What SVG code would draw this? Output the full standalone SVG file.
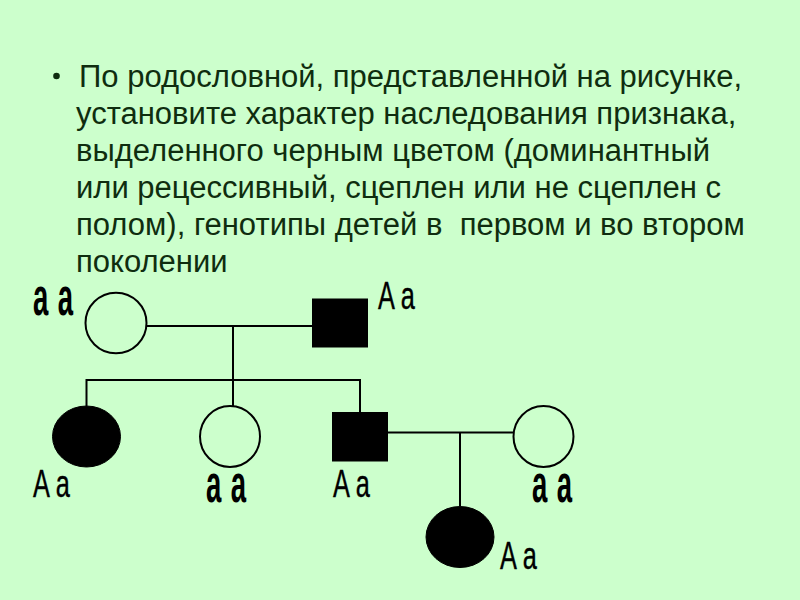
<svg xmlns="http://www.w3.org/2000/svg" width="800" height="600" viewBox="0 0 800 600">
<style>
.t{font-family:"Liberation Sans",Arial,sans-serif;font-size:31px;fill:#0f2d0f;white-space:pre}
.ln{stroke:#000;stroke-width:2;fill:none}
.open{fill:none;stroke:#000;stroke-width:2}
.fill{fill:#000;stroke:#000;stroke-width:1}
.gr{font-family:"Liberation Sans",Arial,sans-serif;font-weight:bold;font-size:53px;fill:#000;letter-spacing:18px}
.gA{font-family:"Liberation Sans",Arial,sans-serif;font-size:39px;fill:#000;stroke:#000;stroke-width:0.4;letter-spacing:9px}
</style>
<rect width="800" height="600" fill="#ccffcc"/>
<g id="question">
<circle cx="56.5" cy="76" r="3.3" fill="#0f2d0f"/>
<text class="t" x="79" y="86.5">По родословной, представленной на рисунке,</text>
<text class="t" x="76" y="123.6">установите характер наследования признака,</text>
<text class="t" x="76" y="160.7">выделенного черным цветом (доминантный</text>
<text class="t" x="76" y="197.8">или рецессивный, сцеплен или не сцеплен с</text>
<text class="t" x="76" y="234.9">полом), генотипы детей в  первом и во втором</text>
<text class="t" x="76" y="272">поколении</text>
</g>
<g id="connectors">
<line class="ln" x1="146" y1="326" x2="312" y2="326"/>
<line class="ln" x1="233" y1="326" x2="233" y2="380"/>
<line class="ln" x1="86.5" y1="380" x2="360" y2="380"/>
<line class="ln" x1="86.5" y1="379" x2="86.5" y2="406"/>
<line class="ln" x1="233" y1="379" x2="233" y2="406"/>
<line class="ln" x1="360" y1="379" x2="360" y2="412"/>
<line class="ln" x1="388" y1="432.5" x2="513" y2="432.5"/>
<line class="ln" x1="460" y1="432.5" x2="460" y2="506"/>
</g>
<g id="mother1">
<ellipse class="open" cx="116" cy="323" rx="30.5" ry="30.3"/>
<text class="gr" transform="translate(33,315) scale(0.52,1)">aa</text>
</g>
<g id="father1">
<rect class="fill" x="312.5" y="299" width="55" height="48"/>
<text class="gA" transform="translate(378,308.5) scale(0.65,1)">Aa</text>
</g>
<g id="daughter1">
<ellipse class="fill" cx="86.5" cy="436.5" rx="34" ry="30.5"/>
<text class="gA" transform="translate(33,496.5) scale(0.65,1)">Aa</text>
</g>
<g id="daughter2">
<ellipse class="open" cx="230" cy="436.5" rx="30" ry="30.5"/>
<text class="gr" transform="translate(206,501.5) scale(0.52,1)">aa</text>
</g>
<g id="son">
<rect class="fill" x="332.5" y="412.5" width="55" height="48.5"/>
<text class="gA" transform="translate(333,496.5) scale(0.65,1)">Aa</text>
</g>
<g id="wife">
<ellipse class="open" cx="543.5" cy="436.5" rx="30" ry="30.5"/>
<text class="gr" transform="translate(532,501.5) scale(0.52,1)">aa</text>
</g>
<g id="granddaughter">
<ellipse class="fill" cx="460" cy="537" rx="34" ry="30.5"/>
<text class="gA" transform="translate(500,569) scale(0.65,1)">Aa</text>
</g>
</svg>
